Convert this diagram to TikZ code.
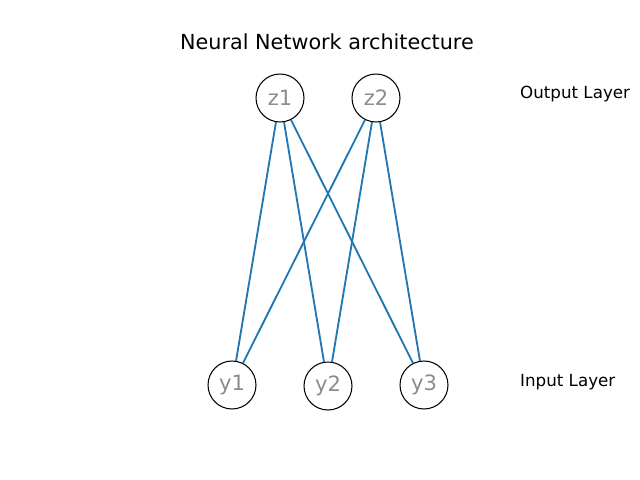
\documentclass[tikz,border=0pt]{standalone}
\usepackage{fontspec}
\setmainfont{DejaVu Sans}
\begin{document}
\begin{tikzpicture}[
    x=0.02cm, y=-0.02cm,
    % Styles
    neuron_node/.style={circle, draw=black, line width=0.6pt, minimum size=0.96cm, inner sep=0pt, text=gray!90, font=\fontsize{12}{12}\selectfont},
    link_edge/.style={draw={rgb,255:red,31;green,119;blue,180}, line width=1.05pt},
    layer_label/.style={anchor=west, font=\fontsize{9.5}{9.5}\selectfont}
]
    \useasboundingbox (0,0) rectangle (640,480);

    % ==========================================
    % 1. TITLE
    % ==========================================
    \node[font=\fontsize{11.8}{11.8}\selectfont] (title) at (327,42) {Neural Network architecture};

    % ==========================================
    % 2. NEURONS
    % ==========================================
    % Output Layer
    \node[neuron_node] (z1) at (280,98) {z1};
    \node[neuron_node] (z2) at (376,98) {z2};

    % Input Layer
    \node[neuron_node] (y1) at (232,385) {y1};
    \node[neuron_node] (y2) at (328,386) {y2};
    \node[neuron_node] (y3) at (424,385) {y3};

    % ==========================================
    % 3. CONNECTIONS
    % ==========================================
    \foreach \z in {z1, z2} {
        \foreach \y in {y1, y2, y3} {
            \draw[link_edge] (\z) -- (\y);
        }
    }

    % ==========================================
    % 4. LAYER LABELS
    % ==========================================
    \node[layer_label] (out_label) at (514,94) {Output Layer};
    \node[layer_label] (in_label) at (514,382) {Input Layer};

\end{tikzpicture}
\end{document}
